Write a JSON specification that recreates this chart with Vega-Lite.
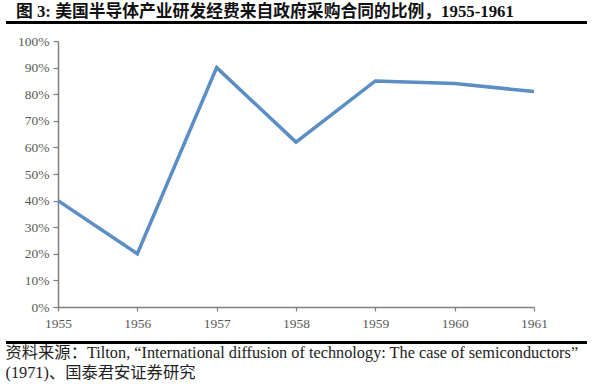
{
  "$schema": "https://vega.github.io/schema/vega-lite/v6.json",
  "autosize": {"type": "none"},
  "width": 476,
  "height": 266,
  "padding": {"left": 58, "top": 41, "right": 64, "bottom": 81},
  "background": "white",
  "config": {
    "view": {"stroke": null},
    "axis": {
      "grid": false,
      "labelOverlap": false,
      "domainColor": "#7f7f7f",
      "domainWidth": 1.5,
      "tickColor": "#7f7f7f",
      "tickWidth": 1.2,
      "labelFont": "Liberation Serif",
      "labelFontSize": 13.5,
      "labelColor": "#595959"
    },
    "axisX": {"tickSize": 4, "labelPadding": 5, "labelFlush": false},
    "axisY": {"tickSize": 5, "labelPadding": 4}
  },
  "title": {
    "text": "图\u00a03:\u00a0美国半导体产业研发经费来自政府采购合同的比例，1955-1961",
    "anchor": "start",
    "frame": "group",
    "dx": -42,
    "dy": 14,
    "font": "Liberation Serif, Noto Sans CJK SC",
    "fontSize": 16.8,
    "fontWeight": "bold",
    "color": "#111111",
    "offset": 14
  },
  "data": {
    "values": [
      {"year": 1955, "share": 0.40},
      {"year": 1956, "share": 0.20},
      {"year": 1957, "share": 0.90},
      {"year": 1958, "share": 0.62},
      {"year": 1959, "share": 0.85},
      {"year": 1960, "share": 0.84},
      {"year": 1961, "share": 0.81}
    ]
  },
  "layer": [
    {
      "mark": {"type": "line", "color": "#5b8ec3", "strokeWidth": 3.5, "strokeJoin": "miter"},
      "encoding": {
        "x": {
          "field": "year",
          "type": "quantitative",
          "scale": {"domain": [1955, 1961], "nice": false, "zero": false},
          "axis": {
            "values": [1955, 1956, 1957, 1958, 1959, 1960, 1961],
            "format": "d",
            "title": ["资料来源：Tilton, “International diffusion of technology: The case of semiconductors”", "(1971)、国泰君安证券研究"],
            "titleX": -53,
            "titleY": 37,
            "titleAlign": "left",
            "titleAnchor": "start",
            "titleBaseline": "top",
            "titleLineHeight": 20,
            "titleFont": "Liberation Serif, Noto Sans CJK SC",
            "titleFontSize": 16.3,
            "titleFontWeight": "normal",
            "titleColor": "#222222"
          }
        },
        "y": {
          "field": "share",
          "type": "quantitative",
          "scale": {"domain": [0, 1], "nice": false},
          "axis": {
            "values": [0, 0.1, 0.2, 0.3, 0.4, 0.5, 0.6, 0.7, 0.8, 0.9, 1.0],
            "format": ".0%",
            "title": null
          }
        }
      }
    },
    {
      "mark": {"type": "rule", "color": "#000000", "strokeWidth": 3},
      "encoding": {
        "x": {
          "datum": 1954.345, "type": "quantitative",
          "axis": {
            "values": [1955, 1956, 1957, 1958, 1959, 1960, 1961],
            "format": "d",
            "title": ["资料来源：Tilton, “International diffusion of technology: The case of semiconductors”", "(1971)、国泰君安证券研究"],
            "titleX": -53,
            "titleY": 37,
            "titleAlign": "left",
            "titleAnchor": "start",
            "titleBaseline": "top",
            "titleLineHeight": 20,
            "titleFont": "Liberation Serif, Noto Sans CJK SC",
            "titleFontSize": 16.3,
            "titleFontWeight": "normal",
            "titleColor": "#222222"
          }
        },
        "x2": {"datum": 1961.668},
        "y": {
          "datum": 1.07, "type": "quantitative",
          "axis": {
            "values": [0, 0.1, 0.2, 0.3, 0.4, 0.5, 0.6, 0.7, 0.8, 0.9, 1.0],
            "format": ".0%",
            "title": null
          }
        }
      }
    },
    {
      "mark": {"type": "rule", "color": "#000000", "strokeWidth": 2.5},
      "encoding": {
        "x": {
          "datum": 1954.345, "type": "quantitative",
          "axis": {
            "values": [1955, 1956, 1957, 1958, 1959, 1960, 1961],
            "format": "d",
            "title": ["资料来源：Tilton, “International diffusion of technology: The case of semiconductors”", "(1971)、国泰君安证券研究"],
            "titleX": -53,
            "titleY": 37,
            "titleAlign": "left",
            "titleAnchor": "start",
            "titleBaseline": "top",
            "titleLineHeight": 20,
            "titleFont": "Liberation Serif, Noto Sans CJK SC",
            "titleFontSize": 16.3,
            "titleFontWeight": "normal",
            "titleColor": "#222222"
          }
        },
        "x2": {"datum": 1961.668},
        "y": {
          "datum": -0.134, "type": "quantitative",
          "axis": {
            "values": [0, 0.1, 0.2, 0.3, 0.4, 0.5, 0.6, 0.7, 0.8, 0.9, 1.0],
            "format": ".0%",
            "title": null
          }
        }
      }
    }
  ]
}
